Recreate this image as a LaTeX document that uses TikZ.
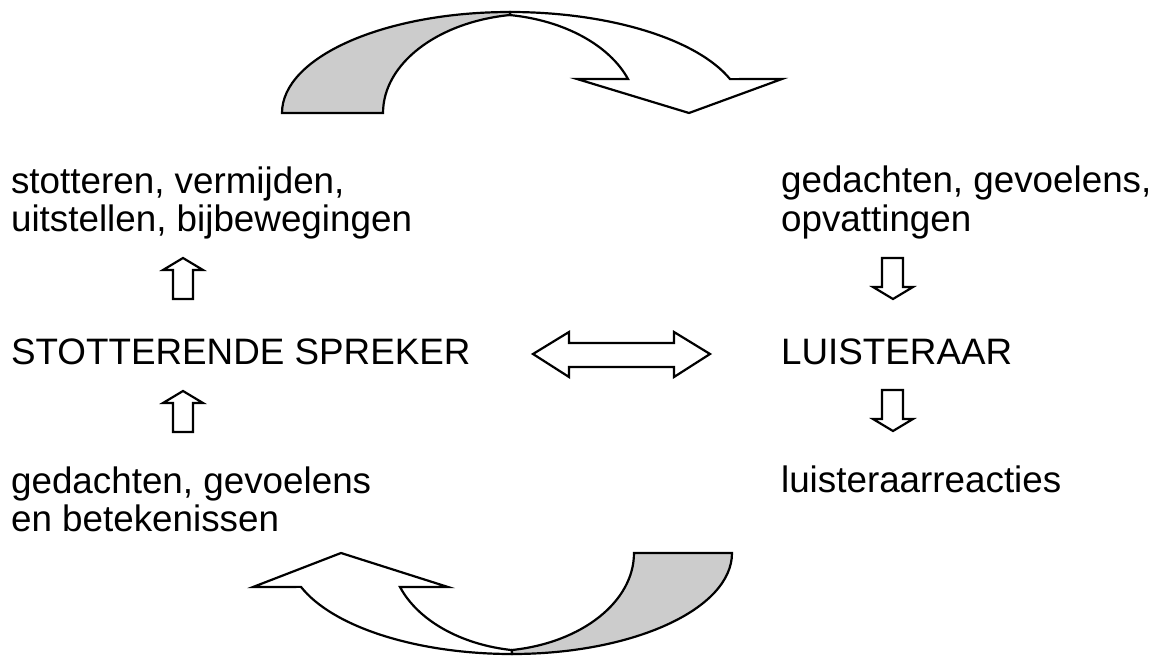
\documentclass[tikz,border=0pt]{standalone}
\usepackage{fontspec}
\setmainfont{Liberation Sans}
\usepackage{tikz}

\begin{document}
\begin{tikzpicture}[x=0.5pt,y=0.5pt,line width=1.1pt,
    tekst/.style={anchor=base west,inner sep=0pt,align=left,font=\fontsize{18.4}{19.25}\selectfont},
    band/.style={draw=black,fill=gray!40},
    blok/.style={draw=black,fill=white}]
        \useasboundingbox (0,0) rectangle (1160,655);
        % teksten links (basislijn van de laatste regel)
        \node[tekst] (gedrag) at (10,423.5) {stotteren, vermijden,\\uitstellen, bijbewegingen};
        \node[tekst] (spreker) at (10,290.5) {STOTTERENDE SPREKER};
        \node[tekst] (betekenis) at (10,123.5) {gedachten, gevoelens\\en betekenissen};
        % teksten rechts
        \node[tekst] (gedachten) at (780,424) {gedachten, gevoelens,\\opvattingen};
        \node[tekst] (luisteraar) at (780,291) {LUISTERAAR};
        \node[tekst] (reacties) at (780,163) {luisteraarreacties};
        % bovenste gebogen pijl
        \draw[blok] (510,643) arc[start angle=90,end angle=19.6,x radius=233.6,y radius=101]
            -- (782,576) -- (689,542) -- (577,576) -- (628,576)
            arc[start angle=20.1,end angle=81.5,x radius=149.1,y radius=99.08] -- cycle;
        \draw[band] (282,542) arc[start angle=180,end angle=90,x radius=228,y radius=101]
            -- (510,640) arc[start angle=98.5,end angle=180,x radius=149,y radius=99.1] -- cycle;
        % onderste gebogen pijl
        \draw[blok] (512,1) arc[start angle=270,end angle=199.6,x radius=224,y radius=101]
            -- (253,68) -- (341,102) -- (448,68) -- (400,68)
            arc[start angle=200.2,end angle=261.1,x radius=142.8,y radius=98.17] -- cycle;
        \draw[band] (732,102) arc[start angle=0,end angle=-90,x radius=220,y radius=101]
            -- (512,5) arc[start angle=-81.2,end angle=0,x radius=144,y radius=98.1] -- cycle;
        % dubbele pijl
        \draw[blok] (533,301) -- (569,323) -- (569,312) -- (674,312) -- (674,323) -- (710,301)
            -- (674,278) -- (674,288) -- (569,288) -- (569,278) -- cycle;
        % pijlen omhoog
        \foreach \y in {223,356}
            \draw[blok] (173,\y) -- (193,\y) -- (193,\y+29) -- (203,\y+29) -- (183,\y+41)
                -- (163,\y+29) -- (173,\y+29) -- cycle;
        % pijlen omlaag
        \foreach \y in {224,356}
            \draw[blok] (882,\y+41) -- (903,\y+41) -- (903,\y+12) -- (913,\y+12) -- (893,\y)
                -- (873,\y+12) -- (882,\y+12) -- cycle;
\end{tikzpicture}
\end{document}
